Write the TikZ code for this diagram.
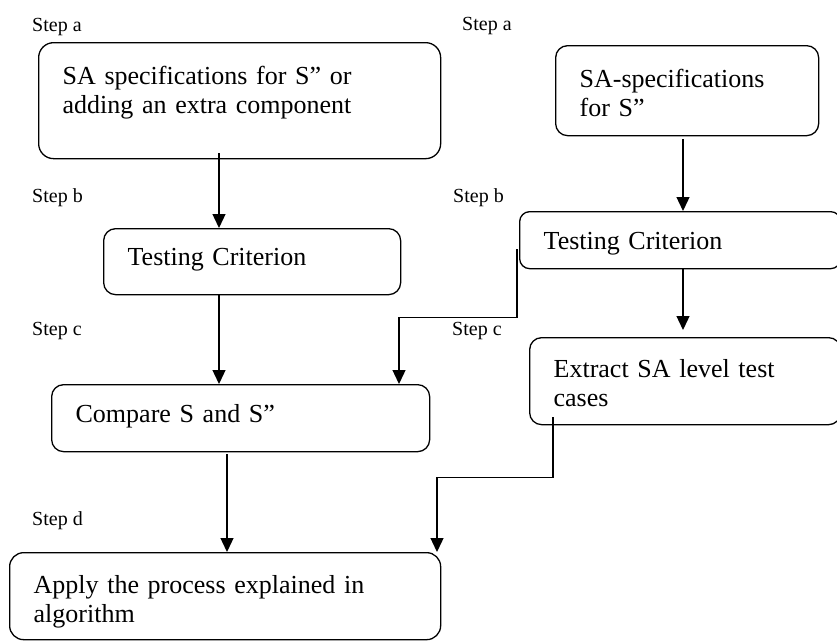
\documentclass[tikz,border=0pt]{standalone}
\usepackage{fontspec}
\setmainfont{Liberation Serif}
\usepackage{tikz}
\usetikzlibrary{positioning,arrows.meta}

\tikzset{
  stepbox/.style={draw, line width=1.3pt, rounded corners=12pt, anchor=north west,
    align=left, inner xsep=24pt, inner ysep=4pt, font=\fontsize{26}{29}\selectfont},
  steplabel/.style={anchor=base west, inner sep=0pt, font=\fontsize{20}{24}\selectfont},
  flow/.style={line width=1.3pt, -{Triangle[length=14pt,width=13pt]}}
}

\begin{document}
\begin{tikzpicture}[x=1pt,y=-1pt]
  \useasboundingbox (0,0) rectangle (837,641);

  % left column
  \node[stepbox, rounded corners=15pt, text width=354pt, text height=38pt, text depth=70pt]
    (specA) at (38,42) {SA specifications for S” or\\adding an extra component};
  \node[stepbox, text width=249pt, text height=33pt, text depth=25pt]
    (critA) at (103,228) {Testing Criterion};
  \node[stepbox, text width=330pt, text height=34pt, text depth=25pt]
    (cmp) at (51,384) {Compare S and S”};
  \node[stepbox, rounded corners=14pt, text width=383pt, text height=37pt, text depth=42pt]
    (apply) at (9,552) {Apply the process explained in\\algorithm};

  % right column
  \node[stepbox, text width=215pt, text height=38pt, text depth=44pt]
    (specB) at (555,45) {SA-specifications\\for S”};
  \node[stepbox, rounded corners=10pt, text width=273pt, text height=34pt, text depth=15pt]
    (critB) at (519,211) {Testing Criterion};
  \node[stepbox, text width=263pt, text height=36pt, text depth=43pt]
    (extract) at (529,337) {Extract SA level test\\cases};

  % step labels
  \node[steplabel] (laA) at (32,31) {Step a};
  \node[steplabel] (lbA) at (32,202) {Step b};
  \node[steplabel] (lcA) at (32,335) {Step c};
  \node[steplabel] (ldA) at (32,525) {Step d};
  \node[steplabel] (laB) at (462,30) {Step a};
  \node[steplabel] (lbB) at (453,202) {Step b};
  \node[steplabel] (lcB) at (452,335) {Step c};

  % arrows
  \draw[flow] ([xshift=181pt,yshift=6pt]specA.south west) -- ([xshift=116pt]critA.north west);
  \draw[flow] ([xshift=116pt]critA.south west) -- ([xshift=168pt]cmp.north west);
  \draw[flow] ([xshift=176pt,yshift=-2pt]cmp.south west) -- ([xshift=218pt]apply.north west);
  \draw[flow] ([xshift=128pt,yshift=-3pt]specB.south west) -- ([xshift=164pt]critB.north west);
  \draw[flow] ([xshift=164pt]critB.south west) -- ([xshift=154pt,yshift=7pt]extract.north west);
  \draw[flow] ([xshift=-2pt,yshift=20pt]critB.south west) -- ++(0,68)
    -| ([xshift=348pt]cmp.north west);
  \draw[flow] ([xshift=24pt,yshift=8pt]extract.south west) -- ++(0,60)
    -| ([xshift=428pt]apply.north west);
\end{tikzpicture}
\end{document}
